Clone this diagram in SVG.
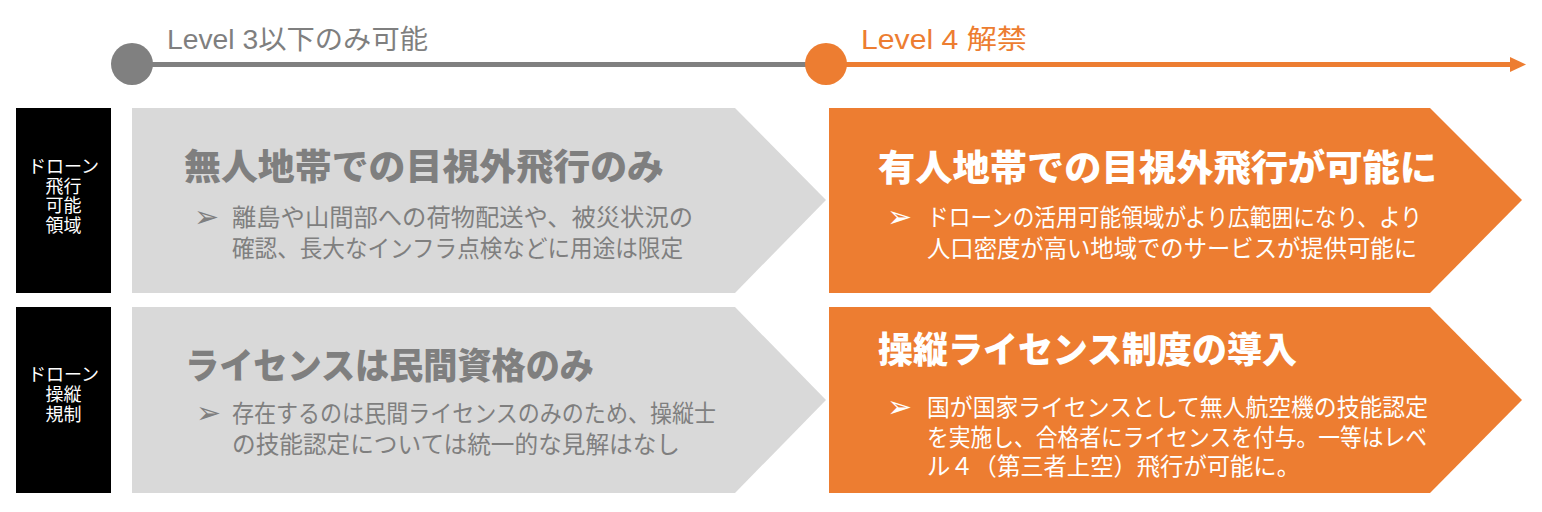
<svg xmlns="http://www.w3.org/2000/svg" width="1542" height="512" viewBox="0 0 1542 512">
<style>
.jp{font-family:"Noto Sans CJK JP","Liberation Sans",sans-serif}
.lat{font-family:"Liberation Sans","Noto Sans CJK JP",sans-serif}
.title{font-size:36px;font-weight:900}
.body{font-size:24px}
.bul{font-family:"DejaVu Sans",sans-serif;font-size:30px}
.side{font-size:18px;fill:#ffffff;text-anchor:middle}
.gtxt{fill:#7f7f7f}
.wtxt{fill:#ffffff}
.gbox{fill:#d9d9d9}
.obox{fill:#ed7d31}
</style>
<rect width="1542" height="512" fill="#ffffff"/>
<g id="timeline">
<line x1="132" y1="64.5" x2="826" y2="64.5" stroke="#808080" stroke-width="5"/>
<line x1="826" y1="64.5" x2="1512" y2="64.5" stroke="#ed7d31" stroke-width="5"/>
<polygon points="1510,57 1526,64.5 1510,72" fill="#ed7d31"/>
<circle cx="132" cy="64" r="21" fill="#808080"/>
<circle cx="826" cy="64" r="21" fill="#ed7d31"/>
<text class="lat" x="167" y="49" font-size="27" fill="#7f7f7f" textLength="261" lengthAdjust="spacingAndGlyphs">Level 3以下のみ可能</text>
<text class="lat" x="861" y="49" font-size="27" fill="#ed7d31" textLength="166" lengthAdjust="spacingAndGlyphs">Level 4 解禁</text>
</g>
<g id="label-row1">
<rect x="16" y="108" width="95" height="185" fill="#000000"/>
<text class="jp side" x="63.5" y="173"><tspan x="63.5" y="173">ドローン</tspan><tspan x="63.5" y="193">飛行</tspan><tspan x="63.5" y="212">可能</tspan><tspan x="63.5" y="232">領域</tspan></text>
</g>
<g id="label-row2">
<rect x="16" y="307" width="95" height="186" fill="#000000"/>
<text class="jp side" x="63.5" y="381"><tspan x="63.5" y="381">ドローン</tspan><tspan x="63.5" y="401">操縦</tspan><tspan x="63.5" y="421">規制</tspan></text>
</g>
<g id="before-row1">
<polygon class="gbox" points="132,108 735,108 826,200 735,293 132,293"/>
<text class="jp title gtxt" x="184" y="180" textLength="480" lengthAdjust="spacingAndGlyphs">無人地帯での目視外飛行のみ</text>
<text class="bul gtxt" x="194" y="227">➢</text>
<text class="jp body gtxt" x="232" y="226" textLength="461" lengthAdjust="spacingAndGlyphs">離島や山間部への荷物配送や、被災状況の</text>
<text class="jp body gtxt" x="232" y="257" textLength="451" lengthAdjust="spacingAndGlyphs">確認、長大なインフラ点検などに用途は限定</text>
</g>
<g id="after-row1">
<polygon class="obox" points="829,108 1430,108 1522,200 1430,293 829,293"/>
<text class="jp title wtxt" x="878" y="181" textLength="559" lengthAdjust="spacingAndGlyphs">有人地帯での目視外飛行が可能に</text>
<text class="bul wtxt" x="887" y="227">➢</text>
<text class="jp body wtxt" x="927" y="226" textLength="495" lengthAdjust="spacingAndGlyphs">ドローンの活用可能領域がより広範囲になり、より</text>
<text class="jp body wtxt" x="927" y="257" textLength="490" lengthAdjust="spacingAndGlyphs">人口密度が高い地域でのサービスが提供可能に</text>
</g>
<g id="before-row2">
<polygon class="gbox" points="132,307 735,307 826,400 735,493 132,493"/>
<text class="jp title gtxt" x="185" y="379" textLength="409" lengthAdjust="spacingAndGlyphs">ライセンスは民間資格のみ</text>
<text class="bul gtxt" x="196" y="423">➢</text>
<text class="jp body gtxt" x="232" y="422" textLength="484" lengthAdjust="spacingAndGlyphs">存在するのは民間ライセンスのみのため、操縦士</text>
<text class="jp body gtxt" x="232" y="453" textLength="448" lengthAdjust="spacingAndGlyphs">の技能認定については統一的な見解はなし</text>
</g>
<g id="after-row2">
<polygon class="obox" points="829,307 1430,307 1522,400 1430,493 829,493"/>
<text class="jp title wtxt" x="878" y="363" textLength="419" lengthAdjust="spacingAndGlyphs">操縦ライセンス制度の導入</text>
<text class="bul wtxt" x="887" y="417">➢</text>
<text class="jp body wtxt" x="927" y="416" textLength="501" lengthAdjust="spacingAndGlyphs">国が国家ライセンスとして無人航空機の技能認定</text>
<text class="jp body wtxt" x="927" y="446" textLength="500" lengthAdjust="spacingAndGlyphs">を実施し、合格者にライセンスを付与。一等はレベ</text>
<text class="jp body wtxt" x="927" y="475" textLength="373" lengthAdjust="spacingAndGlyphs">ル４（第三者上空）飛行が可能に。</text>
</g>
</svg>
